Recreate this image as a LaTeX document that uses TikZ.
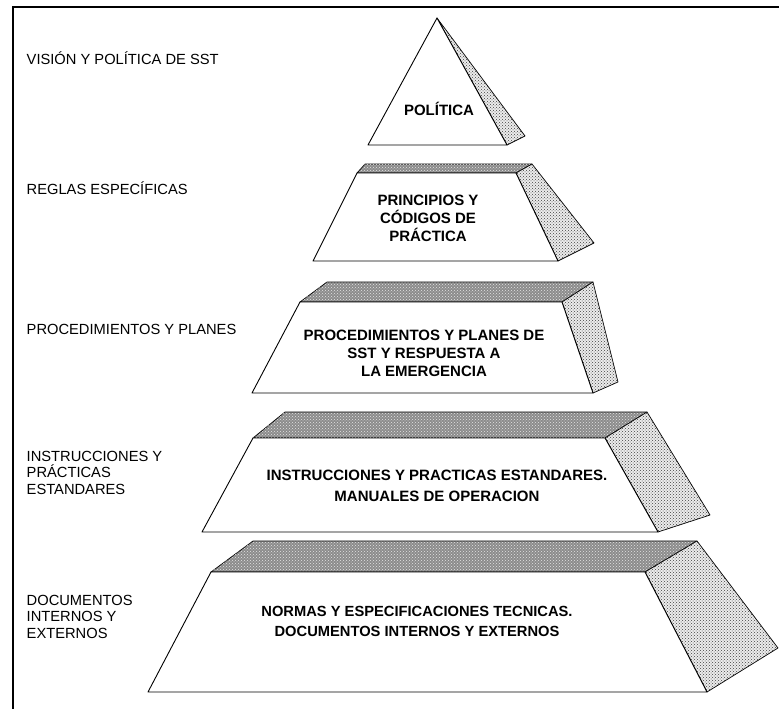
\documentclass[tikz,border=0pt]{standalone}
\usepackage{fontspec}
\setmainfont{Liberation Sans}
\usetikzlibrary{patterns}
\begin{document}
\begin{tikzpicture}[x=1pt,y=-1pt,
  lbl/.style={anchor=west,inner sep=0pt,align=left,font=\fontsize{14.7}{16.7}\selectfont},
  ctr/.style={inner sep=0pt,align=center,font=\bfseries\fontsize{15}{18}\selectfont},
  front/.style={draw=black,fill=white,line width=0.9pt,line join=round},
  topface/.style={draw=black,fill=gray!90,line width=0.7pt,line join=round,postaction={pattern=crosshatch dots,pattern color=white!80!gray}},
  sideface/.style={draw=black,fill=gray!15,line width=0.7pt,line join=round,postaction={pattern=crosshatch dots,pattern color=black!75}}]
\useasboundingbox (0,0) rectangle (779,709);
% frame
\draw[line width=2pt] (13,709) -- (13,7) -- (779,7);
% level 1
\coordinate (a1) at (437,18);
\coordinate (l1) at (368,145);
\coordinate (r1) at (507,145);
\coordinate (s1) at (525,136);
\draw[sideface] (a1) -- (s1) -- (r1) -- cycle;
\draw[front] (a1) -- (r1) -- (l1) -- cycle;
% level 2
\draw[topface] (357,173) -- (365,164) -- (532,164) -- (516,173) -- cycle;
\draw[sideface] (516,173) -- (532,164) -- (594,243) -- (558,261) -- cycle;
\draw[front] (357,173) -- (516,173) -- (558,261) -- (313,261) -- cycle;
% level 3
\draw[topface] (300,302) -- (327,282) -- (593,282) -- (562,302) -- cycle;
\draw[sideface] (562,302) -- (593,282) -- (618,382) -- (593,393) -- cycle;
\draw[front] (300,302) -- (562,302) -- (593,393) -- (252,393) -- cycle;
% level 4
\draw[topface] (253,438) -- (285,412) -- (647,412) -- (605,438) -- cycle;
\draw[sideface] (605,438) -- (647,412) -- (710,515) -- (658,532) -- cycle;
\draw[front] (253,438) -- (605,438) -- (658,532) -- (202,532) -- cycle;
% level 5
\draw[topface] (211,572) -- (253,541) -- (697,541) -- (645,572) -- cycle;
\draw[sideface] (645,572) -- (697,541) -- (778,648) -- (707,692) -- cycle;
\draw[front] (211,572) -- (645,572) -- (707,692) -- (148,692) -- cycle;
% left labels
\node[lbl] (t1) at (26.5,58.5) {VISIÓN Y POLÍTICA DE SST};
\node[lbl] (t2) at (26.5,188.5) {REGLAS ESPECÍFICAS};
\node[lbl] (t3) at (26.5,329.5) {PROCEDIMIENTOS Y PLANES};
\node[lbl] (t4) at (26.5,472.7) {INSTRUCCIONES Y\\PRÁCTICAS\\ESTANDARES};
\node[lbl] (t5) at (26.5,616.7) {DOCUMENTOS\\INTERNOS Y\\EXTERNOS};
% center labels
\node[ctr] (c1) at (439,109) {POLÍTICA};
\node[ctr] (c2) at (428,218.5) {PRINCIPIOS Y\\CÓDIGOS DE\\PRÁCTICA};
\node[ctr] (c3) at (424,353.5) {PROCEDIMIENTOS Y PLANES DE\\SST Y RESPUESTA A\\LA EMERGENCIA};
\node[ctr,font=\bfseries\fontsize{15}{21.5}\selectfont] (c4) at (437,486) {INSTRUCCIONES Y PRACTICAS ESTANDARES.\\MANUALES DE OPERACION};
\node[ctr,font=\bfseries\fontsize{14.7}{20}\selectfont] (c5) at (417,621.5) {NORMAS Y ESPECIFICACIONES TECNICAS.\\DOCUMENTOS INTERNOS Y EXTERNOS};
\end{tikzpicture}
\end{document}
